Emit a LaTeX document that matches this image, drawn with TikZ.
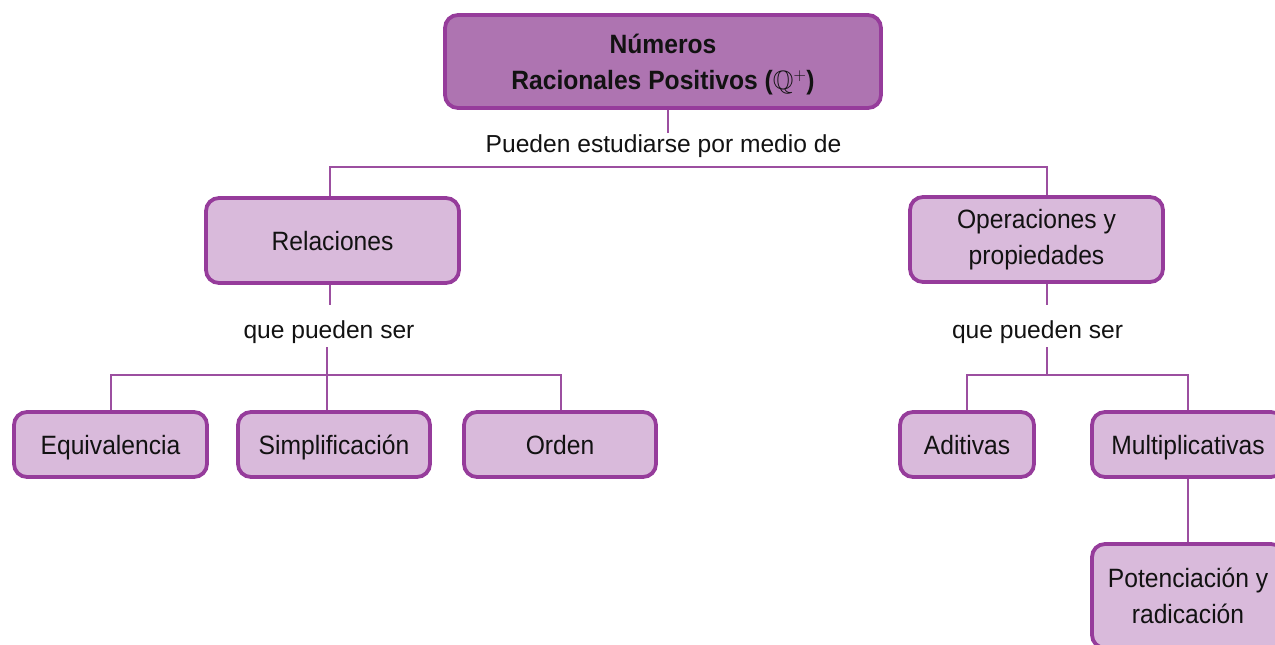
\documentclass[tikz,border=0pt]{standalone}
\usepackage{amssymb}
\usepackage{fontspec}
\setmainfont{Liberation Sans}
\newfontfamily\condfont{Liberation Sans}[FakeStretch=0.93]
\begin{document}
\begin{tikzpicture}[x=1pt,y=-1pt,
  every node/.style={text=black!93},
  boxbase/.style={draw=boxline, line width=3.8pt, rounded corners=13pt, align=center, inner sep=0pt},
  topbox/.style={boxbase, fill=topfill, font=\condfont\fontsize{26.5}{36}\selectfont\bfseries},
  subbox/.style={boxbase, fill=subfill, font=\condfont\fontsize{26.5}{36}\selectfont},
  onebox/.style={subbox, text height=19pt, text depth=0pt},
  lbl/.style={inner sep=0pt, anchor=base, font=\fontsize{24.6}{30}\selectfont},
  conn/.style={draw=connline, line width=2pt}
]
\definecolor{topfill}{HTML}{AE74B1}
\definecolor{subfill}{HTML}{D9BADB}
\definecolor{boxline}{HTML}{963C9B}
\definecolor{connline}{HTML}{9C4FA0}
\useasboundingbox (0,0) rectangle (1275,645);
\clip (0,0) rectangle (1275,645);

% boxes
\node[topbox, minimum width=436pt, minimum height=93pt] (top) at (663,61.5)
  {\begin{tabular}{@{}c@{}}\rule{0pt}{30.8pt}Números\\ Racionales Positivos ($\mathbb{Q}^{+}$)\end{tabular}};
\node[onebox, minimum width=253pt, minimum height=85pt] (rel) at (332.5,240.5) {Relaciones};
\node[subbox, minimum width=253pt, minimum height=85pt] (ope) at (1036.5,239.5) {Operaciones y\\propiedades};
\node[onebox, minimum width=193pt, minimum height=65pt] (eqv) at (110.5,444.5) {Equivalencia};
\node[onebox, minimum width=192pt, minimum height=65pt] (sim) at (334,444.5) {Simplificación};
\node[onebox, minimum width=192pt, minimum height=65pt] (ord) at (560,444.5) {Orden};
\node[onebox, minimum width=134pt, minimum height=65pt] (adi) at (967,444.5) {Aditivas};
\node[onebox, minimum width=192pt, minimum height=65pt] (mul) at (1188,444.5) {Multiplicativas};
\node[subbox, minimum width=192pt, minimum height=104pt] (pot) at (1188,596) {Potenciación y\\radicación};

% labels
\node[lbl, text height=19pt, text depth=15pt] (lab1) at (663.5,152) {Pueden estudiarse por medio de};
\node[lbl, text height=33pt, text depth=9pt] (lab2) at (329,338) {que pueden ser};
\node[lbl, text height=33pt, text depth=9pt] (lab3) at (1037.5,338) {que pueden ser};

\coordinate (j2) at (327,375);
\coordinate (j3) at (1047,375);

% connectors
\draw[conn] (top.south -| 668,0) -- (lab1.north -| 668,0);
\draw[conn] (rel.north -| 330,0) |- (lab1.south) -| (ope.north -| j3);
\draw[conn] (rel.south -| 330,0) -- (lab2.north -| 330,0);
\draw[conn] (lab2.south -| j2) -- (j2);
\draw[conn] (eqv.north -| 111,0) |- (j2) -| (ord.north -| 561,0);
\draw[conn] (j2) -- (j2 |- sim.north);
\draw[conn] (ope.south -| j3) -- (j3 |- lab3.north);
\draw[conn] (j3 |- lab3.south) -- (j3);
\draw[conn] (adi.north) |- (j3) -| (mul.north);
\draw[conn] (mul.south) -- (pot.north);
\end{tikzpicture}
\end{document}
